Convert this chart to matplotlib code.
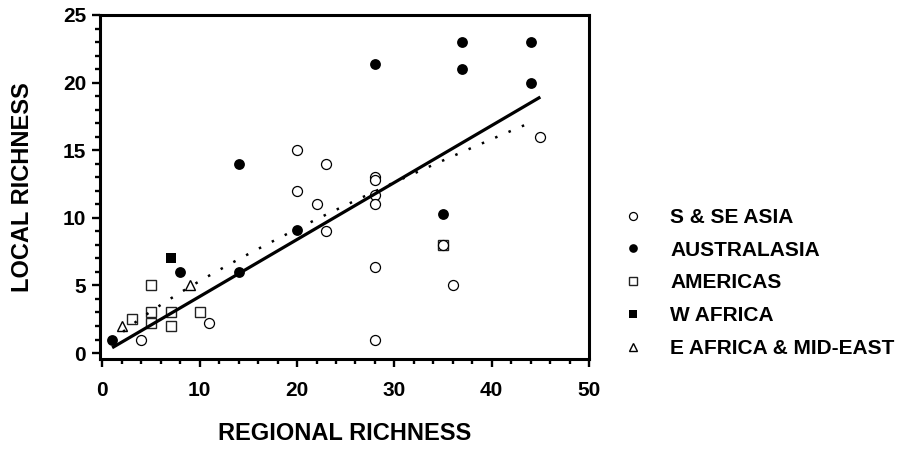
import numpy as np
import matplotlib
matplotlib.use("Agg")
import matplotlib.pyplot as plt
from matplotlib.ticker import MultipleLocator

plt.rcParams['font.family'] = ['Liberation Sans', 'DejaVu Sans']
plt.rcParams['font.weight'] = 'bold'

# ---- data ----
asia_x = [4, 11, 20, 20, 22, 23, 23, 28, 28, 28, 28, 28, 28, 35, 36, 45]
asia_y = [1, 2.2, 15, 12, 11, 14, 9, 13, 12.8, 11.7, 11, 6.4, 1, 8, 5, 16]

aus_x = [1, 8, 14, 14, 20, 28, 35, 37, 37, 44, 44]
aus_y = [1, 6, 6, 14, 9.1, 21.4, 10.3, 23, 21, 23, 20]

amer_x = [3, 5, 5, 5, 7, 7, 10, 35]
amer_y = [2.5, 5, 3, 2.2, 3, 2, 3, 8]

wafr_x = [7]
wafr_y = [7]

eafr_x = [2, 9]
eafr_y = [2, 5]

labels = ['S & SE ASIA', 'AUSTRALASIA', 'AMERICAS', 'W AFRICA', 'E AFRICA & MID-EAST']

# fitted lines (parameters)
lin_intercept, lin_slope = -0.03, 0.4214
lin_range = (1, 45)
pow_a, pow_b = 0.874, 0.785
pow_range = (1, 44)

W, H = 913, 451
fig = plt.figure(figsize=(W / 100, H / 100), dpi=100)
ax = fig.add_axes([100 / W, 1 - 359 / H, (589 - 100) / W, (359 - 15) / H])

h_amer = ax.plot(amer_x, amer_y, 's', ms=6.6, mfc='white', mec='#222222', mew=1.0, zorder=3)[0]
h_eafr = ax.plot(eafr_x, eafr_y, '^', ms=7.0, mfc='white', mec='black', mew=1.0, zorder=3)[0]
h_asia = ax.plot(asia_x, asia_y, 'o', ms=7.2, mfc='white', mec='black', mew=0.9, zorder=4)[0]
h_aus = ax.plot(aus_x, aus_y, 'o', ms=7.8, mfc='black', mec='black', mew=0, zorder=4)[0]
h_wafr = ax.plot(wafr_x, wafr_y, 's', ms=7.2, mfc='black', mec='black', mew=0, zorder=4)[0]

xl = np.linspace(*lin_range, 200)
ax.plot(xl, lin_intercept + lin_slope * xl, '-', color='black', lw=2.3, zorder=5,
        solid_capstyle='butt')
xp = np.linspace(*pow_range, 400)
ax.plot(xp, pow_a * xp ** pow_b, color='black', lw=1.8, linestyle=(0, (1, 4.8)),
        dash_capstyle='butt', zorder=5)

ax.set_xlim(-0.25, 50)
ax.set_ylim(-0.44, 25)
ax.xaxis.set_major_locator(MultipleLocator(10))
ax.xaxis.set_minor_locator(MultipleLocator(2))
ax.yaxis.set_major_locator(MultipleLocator(5))
ax.yaxis.set_minor_locator(MultipleLocator(1))
for s in ax.spines.values():
    s.set_linewidth(2.2)
ax.tick_params(which='major', direction='out', length=6, width=1.7, labelsize=15)
ax.tick_params(which='minor', direction='out', length=3.8, width=1.7)
ax.tick_params(axis='x', which='major', pad=10)
ax.tick_params(axis='y', which='major', pad=4)
for t in ax.get_xticklabels() + ax.get_yticklabels():
    t.set_fontweight('bold')

fig.text(344.5 / W, 1 - 433 / H, 'REGIONAL RICHNESS', ha='center', va='center',
         fontsize=17, fontweight='bold')
fig.text(22.5 / W, 1 - 187 / H, 'LOCAL RICHNESS', ha='center', va='center',
         rotation=90, fontsize=17, fontweight='bold')

fig.legend([h_asia, h_aus, h_amer, h_wafr, h_eafr], labels,
           loc='upper left', bbox_to_anchor=(622.6 / W, 1 - 208 / H),
           frameon=False, markerscale=0.8, handlelength=1.0,
           handletextpad=1.28, labelspacing=0.66, borderpad=0, borderaxespad=0,
           prop={'weight': 'bold', 'size': 15})

fig.savefig('out.png', dpi=100)
